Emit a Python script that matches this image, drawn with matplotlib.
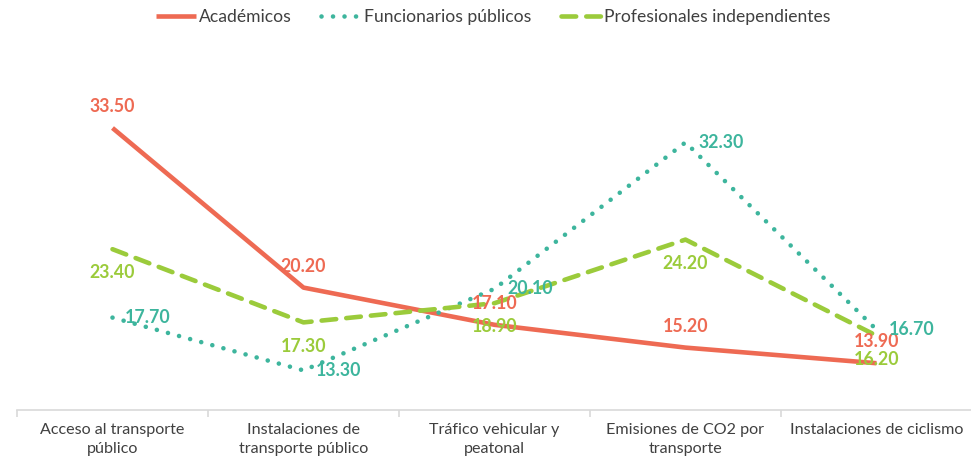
import matplotlib
matplotlib.use("Agg")
import matplotlib.pyplot as plt
from matplotlib.ticker import FixedLocator

plt.rcParams["font.family"] = ["Lato", "DejaVu Sans"]

categories = [
    "Acceso al transporte\npúblico",
    "Instalaciones de\ntransporte público",
    "Tráfico vehicular y\npeatonal",
    "Emisiones de CO2 por\ntransporte",
    "Instalaciones de ciclismo",
]
academicos = [33.5, 20.2, 17.1, 15.2, 13.9]
funcionarios = [17.7, 13.3, 20.1, 32.3, 16.7]
profesionales = [23.4, 17.3, 18.9, 24.2, 16.2]

RED = "#EE6A53"
TEAL = "#3DB59D"
GREEN = "#9BCB3B"
AXIS_GREY = "#D9D9D9"
TEXT_GREY = "#404040"

fig = plt.figure(figsize=(9.71, 4.61), dpi=100)
ax = fig.add_axes([0.0175, 0.1106, 0.9835, 0.781])

x = list(range(len(categories)))

ax.plot(x, academicos, color=RED, lw=3.3, solid_capstyle="butt", label="Académicos")
ax.plot(x, funcionarios, color=TEAL, lw=3.3, linestyle=(0, (0.01, 2.5)),
        dash_capstyle="round", label="Funcionarios públicos")
ax.plot(x, profesionales, color=GREEN, lw=3.3, linestyle=(0, (3.2, 2.2)),
        dash_capstyle="round", label="Profesionales independientes")

label_kw = dict(fontsize=12.8, fontweight="bold", textcoords="offset points")
for xi, v in zip(x, academicos):
    ax.annotate(f"{v:.2f}", (xi, v), xytext=(0, 15.5), ha="center", va="center",
                color=RED, **label_kw)
for xi, v in zip(x, funcionarios):
    ax.annotate(f"{v:.2f}", (xi, v), xytext=(9, 0), ha="left", va="center",
                color=TEAL, **label_kw)
for xi, v in zip(x, profesionales):
    ax.annotate(f"{v:.2f}", (xi, v), xytext=(0, -17), ha="center", va="center",
                color=GREEN, **label_kw)

ax.set_xlim(-0.5, len(categories) - 0.5)
ax.set_ylim(10, 40)
ax.set_yticks([])
for side in ["top", "right", "left"]:
    ax.spines[side].set_visible(False)
ax.spines["bottom"].set_color(AXIS_GREY)
ax.spines["bottom"].set_linewidth(1.2)

ax.set_xticks(x)
ax.set_xticklabels(categories, fontsize=11.6, color=TEXT_GREY, linespacing=1.5)
ax.tick_params(axis="x", which="major", length=0, pad=9)
ax.xaxis.set_minor_locator(FixedLocator([i - 0.5 for i in range(len(categories) + 1)]))
ax.tick_params(axis="x", which="minor", length=5, width=1.2, color=AXIS_GREY)

fig.legend(loc="center", bbox_to_anchor=(0.508, 0.963), ncol=3, frameon=False,
           fontsize=12.6, handlelength=2.3, handletextpad=0.15, columnspacing=1.7,
           labelcolor=TEXT_GREY)

fig.savefig("out.png", dpi=100)
